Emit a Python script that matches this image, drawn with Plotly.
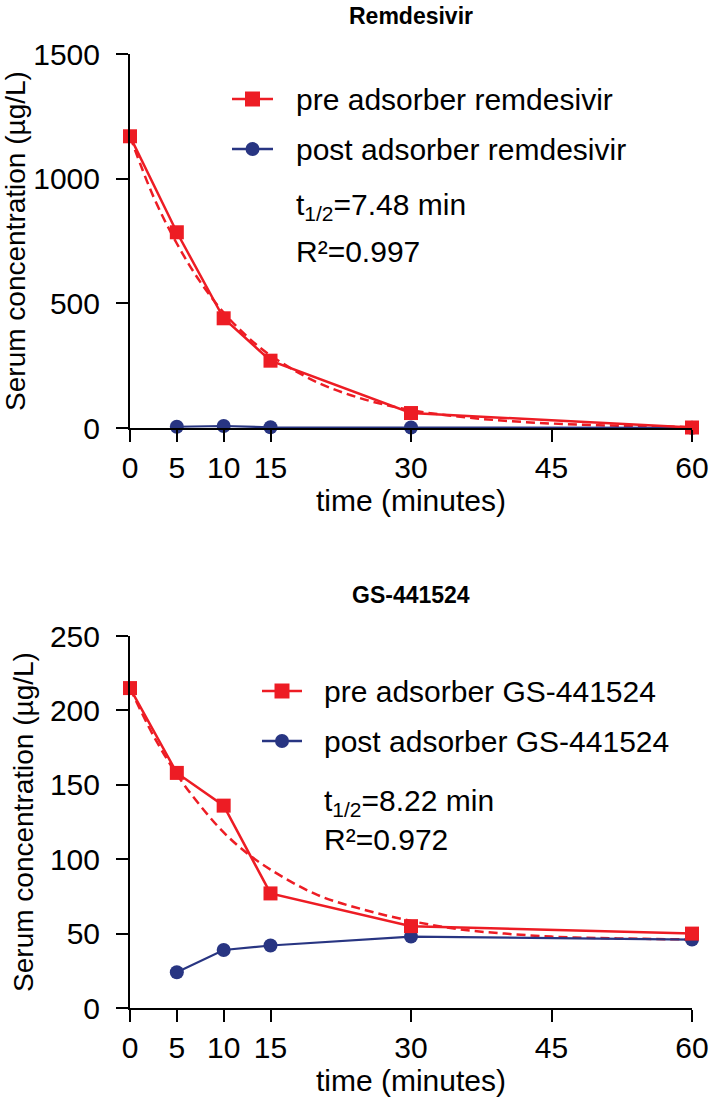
import plotly.graph_objects as go

# ---------------- data ----------------
time_pts = [0, 5, 10, 15, 30, 60]
x_ticks = [0, 5, 10, 15, 30, 45, 60]

# Remdesivir
rem_pre = [1170, 785, 440, 270, 60, 2]
rem_post_t = [5, 10, 15, 30, 60]
rem_post = [5, 8, 3, 2, 1]
rem_fit_t = [0, 2.5, 5, 7.5, 10, 12.5, 15, 20, 25, 30, 35, 40, 45, 50, 55, 60]
rem_fit = [1170, 928, 740, 586, 463, 367, 291, 183, 115, 72, 46, 29, 18, 11, 7, 4]

# GS-441524
gs_pre = [215, 158, 136, 77, 55, 50]
gs_post_t = [5, 10, 15, 30, 60]
gs_post = [24, 39, 42, 48, 46]
gs_fit_t = [0, 2.5, 5, 7.5, 10, 12.5, 15, 20, 25, 30, 35, 40, 45, 50, 55, 60]
gs_fit = [215, 183, 157, 136, 118, 104, 93, 76, 66, 58.5, 53, 50, 48, 47, 46.5, 46]

legend_top = ["pre adsorber remdesivir", "post adsorber remdesivir"]
legend_bottom = ["pre adsorber GS-441524", "post adsorber GS-441524"]

RED = "#ED1C24"
BLUE = "#283582"
FONT = "Arial, Liberation Sans, Helvetica, sans-serif"
FS = 30

W, H = 709, 1097
L, R, T, B = 130, 17, 54, 1097 - 1008
plot_h = H - T - B
plot_w = W - L - R


def fy(page_y):
    return (H - B - page_y) / plot_h


def fx(page_x):
    return (page_x - L) / plot_w


fig = go.Figure()

# top panel
fig.add_trace(go.Scatter(x=rem_fit_t, y=rem_fit, mode="lines", line=dict(color=RED, width=2.5, dash="9px,5px"),
                         line_shape="spline", showlegend=False, xaxis="x", yaxis="y", cliponaxis=False, hoverinfo="skip"))
fig.add_trace(go.Scatter(x=rem_post_t, y=rem_post, mode="lines+markers", name=legend_top[1],
                         line=dict(color=BLUE, width=2.2), marker=dict(symbol="circle", size=14, color=BLUE),
                         xaxis="x", yaxis="y", cliponaxis=False, showlegend=False))
fig.add_trace(go.Scatter(x=time_pts, y=rem_pre, mode="lines+markers", name=legend_top[0],
                         line=dict(color=RED, width=2.5), marker=dict(symbol="square", size=14, color=RED),
                         xaxis="x", yaxis="y", cliponaxis=False, showlegend=False))

# bottom panel
fig.add_trace(go.Scatter(x=gs_fit_t, y=gs_fit, mode="lines", line=dict(color=RED, width=2.5, dash="9px,5px"),
                         line_shape="spline", showlegend=False, xaxis="x2", yaxis="y2", cliponaxis=False, hoverinfo="skip"))
fig.add_trace(go.Scatter(x=gs_post_t, y=gs_post, mode="lines+markers", name=legend_bottom[1],
                         line=dict(color=BLUE, width=2.2), marker=dict(symbol="circle", size=14, color=BLUE),
                         xaxis="x2", yaxis="y2", cliponaxis=False, showlegend=False))
fig.add_trace(go.Scatter(x=time_pts, y=gs_pre, mode="lines+markers", name=legend_bottom[0],
                         line=dict(color=RED, width=2.5), marker=dict(symbol="square", size=14, color=RED),
                         xaxis="x2", yaxis="y2", cliponaxis=False, showlegend=False))

axis_common = dict(
    showline=True, linecolor="black", linewidth=2, ticks="outside", ticklen=12, tickwidth=2,
    tickcolor="black", showgrid=False, zeroline=False, automargin=False,
    tickfont=dict(family=FONT, size=FS, color="black"),
)
xtitle_font = dict(family=FONT, size=30, color="black")
ytitle_font = dict(family=FONT, size=28, color="black")

# ---- legend keys (drawn as layout decorations) ----
shapes = []
annotations = []


def legend_entry(x0, x1, ytxt, color, symbol, text, xtext):
    yc = fy(ytxt)
    shapes.append(dict(type="line", xref="paper", yref="paper", x0=fx(x0), x1=fx(x1), y0=yc, y1=yc,
                       line=dict(color=color, width=2.5)))
    xc = (x0 + x1) / 2
    half = 7.5 if symbol == "square" else 7
    shapes.append(dict(type="rect" if symbol == "square" else "circle", xref="paper", yref="paper",
                       x0=fx(xc - half), x1=fx(xc + half),
                       y0=fy(ytxt + half), y1=fy(ytxt - half),
                       fillcolor=color, line=dict(width=0)))
    annotations.append(dict(text=text, x=fx(xtext), y=yc, xref="paper", yref="paper", showarrow=False,
                            xanchor="left", yanchor="middle", font=dict(family=FONT, size=FS, color="black")))


legend_entry(232, 273, 99, RED, "square", legend_top[0], 294)
legend_entry(232, 273, 149, BLUE, "circle", legend_top[1], 294)
legend_entry(262, 302, 691, RED, "square", legend_bottom[0], 322)
legend_entry(262, 302, 741, BLUE, "circle", legend_bottom[1], 322)

annotations += [
    dict(text="<b>Remdesivir</b>", x=0.5, y=fy(16), xref="paper", yref="paper", showarrow=False,
         xanchor="center", yanchor="middle", font=dict(family=FONT, size=23, color="black")),
    dict(text="<b>GS-441524</b>", x=0.5, y=fy(595), xref="paper", yref="paper", showarrow=False,
         xanchor="center", yanchor="middle", font=dict(family=FONT, size=23, color="black")),
    dict(text="t<sub>1/2</sub>=7.48 min", x=fx(294), y=fy(207), xref="paper", yref="paper", showarrow=False,
         xanchor="left", yanchor="middle", font=dict(family=FONT, size=FS, color="black")),
    dict(text="R²=0.997", x=fx(294), y=fy(252), xref="paper", yref="paper", showarrow=False,
         xanchor="left", yanchor="middle", font=dict(family=FONT, size=FS, color="black")),
    dict(text="t<sub>1/2</sub>=8.22 min", x=fx(322), y=fy(802), xref="paper", yref="paper", showarrow=False,
         xanchor="left", yanchor="middle", font=dict(family=FONT, size=FS, color="black")),
    dict(text="R²=0.972", x=fx(322), y=fy(839), xref="paper", yref="paper", showarrow=False,
         xanchor="left", yanchor="middle", font=dict(family=FONT, size=FS, color="black")),
]

fig.update_layout(
    width=W, height=H, margin=dict(l=L, r=R, t=T, b=B),
    paper_bgcolor="white", plot_bgcolor="white",
    font=dict(family=FONT, size=FS, color="black"),
    showlegend=False,
    xaxis=dict(domain=[0, 1], range=[0, 60], tickvals=x_ticks, anchor="y",
               title=dict(text="time (minutes)", standoff=4, font=xtitle_font), **axis_common),
    yaxis=dict(domain=[fy(428), 1], range=[0, 1500], tickvals=[0, 500, 1000, 1500], anchor="x",
               ticklabelstandoff=10,
               title=dict(text="Serum concentration (µg/L)", standoff=8, font=ytitle_font), **axis_common),
    xaxis2=dict(domain=[0, 1], range=[0, 60], tickvals=x_ticks, anchor="y2",
                title=dict(text="time (minutes)", standoff=4, font=xtitle_font), **axis_common),
    yaxis2=dict(domain=[0, fy(636)], range=[0, 250], tickvals=[0, 50, 100, 150, 200, 250], anchor="x2",
                ticklabelstandoff=10,
                title=dict(text="Serum concentration (µg/L)", standoff=8, font=ytitle_font), **axis_common),
    shapes=shapes,
    annotations=annotations,
)

# the default page body has an 8px margin; remove it so the figure fills the window exactly
fig.write_html("out.html", config={"displayModeBar": False},
               post_script="document.body.style.margin='0px';")
